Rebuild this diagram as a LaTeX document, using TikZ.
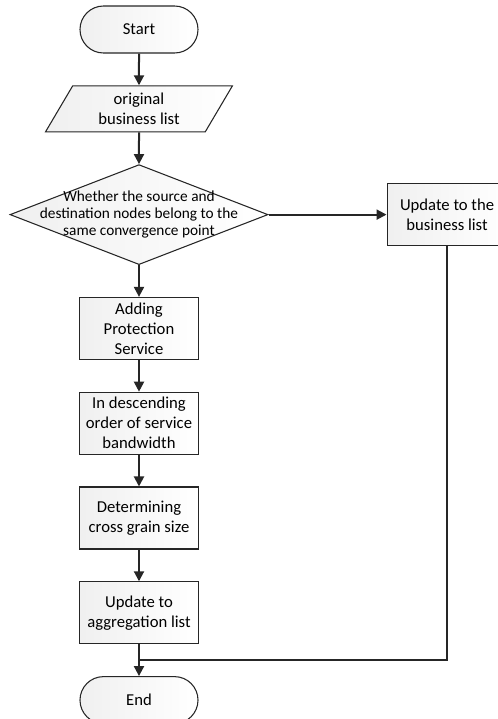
\documentclass[tikz,border=0pt]{standalone}
\usepackage{fontspec}
\setmainfont{Carlito}
\usepackage{tikz}
\usetikzlibrary{shapes.geometric}
\usetikzlibrary{arrows.meta}
\usetikzlibrary{positioning}
\tikzset{
  chart_node/.style = {align=center, inner sep=1pt, text centered,
    font=\fontsize{12.5}{15}\selectfont, draw=black!85, line width=0.8pt,
    left color=black!6, right color=white},
  term_node/.style = {chart_node, rectangle, rounded corners=17.6pt,
    minimum width=88.5pt, minimum height=35.25pt},% start / end
  io_node/.style = {chart_node, trapezium, trapezium left angle=63.4,
    trapezium right angle=116.6, trapezium stretches=true,
    minimum width=141pt, minimum height=34.5pt},% input list
  test_node/.style = {chart_node, diamond, inner sep=0pt,
    minimum width=193.5pt, minimum height=75pt},% decision
  test_text/.style = {align=center, inner sep=0pt,
    font=\fontsize{11.5}{13}\selectfont},% decision text
  proc_node/.style = {chart_node, rectangle,
    minimum width=89.25pt, minimum height=46.5pt},% process step
  plain_line/.style = {draw=black!85, line width=1.5pt},
  flow_line/.style = {plain_line, -{Triangle[length=7.5pt,width=7.5pt]}}
}
\begin{document}
\begin{tikzpicture}[x=0.75pt, y=-0.75pt, node distance=23.8pt]
  \useasboundingbox (0,0) rectangle (498,719);
  \node [term_node] (start) at (139,29.5) {Start};
  \node [io_node, below=of start] (orig) {original\\business list};
  \node [test_node, below=of orig,
    label={[test_text]center:Whether the source and\\destination nodes belong to the\\same convergence point}] (test) {};
  \node [proc_node, below=of test] (prot) {Adding\\Protection\\Service};
  \node [proc_node, below=of prot] (sort) {In descending\\order of service\\bandwidth};
  \node [proc_node, below=of sort] (grain) {Determining\\cross grain size};
  \node [proc_node, below=of grain] (aggr) {Update to\\aggregation list};
  \node [term_node, below=of aggr] (end) {End};
  \node [proc_node, right=88.5pt of test, minimum width=90pt] (upd) {Update to the\\business list};
  \coordinate [below=12pt of aggr] (merge);

  \draw [flow_line] (start) -- (orig);
  \draw [flow_line] (orig) -- (test);
  \draw [flow_line] (test) -- (prot);
  \draw [flow_line] (prot) -- (sort);
  \draw [flow_line] (sort) -- (grain);
  \draw [flow_line] (grain) -- (aggr);
  \draw [flow_line] (aggr) -- (end);
  \draw [flow_line] (test) -- (upd);
  \draw [plain_line] (upd) |- (merge);
\end{tikzpicture}
\end{document}
